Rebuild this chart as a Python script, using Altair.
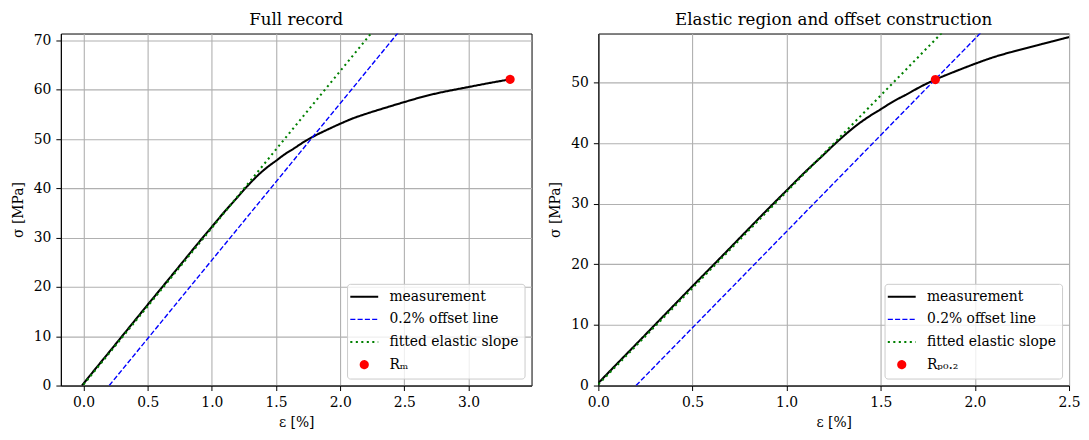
import math
import altair as alt
import pandas as pd

# ---- data ----
eps_meas = [-0.012, 0.0, 0.09, 0.2, 0.3, 0.4, 0.5, 0.63, 0.79, 0.9, 1.0, 1.1, 1.2,
            1.25, 1.3, 1.357, 1.445, 1.5, 1.57, 1.64, 1.71, 1.79, 1.9, 2.0, 2.1,
            2.2, 2.36, 2.5, 2.62, 2.75, 2.88, 3.0, 3.15, 3.324]
sig_meas = [0.0, 0.4, 3.3, 6.8, 10.0, 13.2, 16.4, 20.5, 25.6, 29.1, 32.2, 35.3, 38.2,
            39.7, 41.1, 42.6, 44.55, 45.6, 46.95, 48.1, 49.3, 50.5, 51.9, 53.1, 54.2,
            55.1, 56.4, 57.5, 58.4, 59.25, 59.95, 60.55, 61.3, 62.1]

fit_eps = [0.0, 2.4]
fit_sig = [0.2, 76.5]
off_eps = [0.2, 2.6]
off_sig = [0.0, 76.3]

rm_eps = [3.324]
rm_sig = [62.1]
rp_eps = [1.79]
rp_sig = [50.5]

labels_left = ["measurement", "0.2% offset line", "fitted elastic slope", "Rₘ"]
labels_right = ["measurement", "0.2% offset line", "fitted elastic slope", "Rₚ₀.₂"]
colors = ["#000000", "#0000ff", "#008000", "#ff0000"]
dashes = [[1, 0], [5.1, 2.2], [2.08, 3.43], [1, 0]]
widths = [2.08, 1.39, 2.08, 2.08]

# legend/point symbol shapes (style only)
LINE_SYM = "M-2.95,0H2.95"
_r = 0.75
_pts = [(_r * math.cos(2 * math.pi * k / 24), _r * math.sin(2 * math.pi * k / 24))
        for k in range(24)]
DOT_SYM = "M" + "L".join(f"{px:.4f},{py:.4f}" for px, py in _pts) + "Z"
shapes = [LINE_SYM, LINE_SYM, LINE_SYM, DOT_SYM]

left_xdom = [-0.177, 3.491]
left_ydom = [0, 71.4]
right_xdom = [0, 2.5]
right_ydom = [0, 58.1]
left_xticks = [0.0, 0.5, 1.0, 1.5, 2.0, 2.5, 3.0]
right_xticks = [0.0, 0.5, 1.0, 1.5, 2.0, 2.5]
left_yticks = [0, 10, 20, 30, 40, 50, 60, 70]
right_yticks = [0, 10, 20, 30, 40, 50]

FONT = "DejaVu Serif"
FS = 13.9


def make_legend():
    return alt.Legend(
        title=None, orient="bottom-right", offset=7, padding=6,
        fillColor="rgba(255,255,255,0.8)", strokeColor="#cccccc", cornerRadius=3,
        labelFont=FONT, labelFontSize=FS, labelColor="#000000", labelLimit=400,
        labelOffset=18.3, rowPadding=7.7, symbolSize=90, symbolOffset=4.3,
        symbolOpacity=1, symbolFillColor="#ff0000",
    )


def panel(labels, pt_eps, pt_sig, xdom, ydom, xticks, yticks, title):
    meas = pd.DataFrame({"eps": eps_meas, "sig": sig_meas, "series": labels[0]})
    off = pd.DataFrame({"eps": off_eps, "sig": off_sig, "series": labels[1]})
    fit = pd.DataFrame({"eps": fit_eps, "sig": fit_sig, "series": labels[2]})
    pt = pd.DataFrame({"eps": pt_eps, "sig": pt_sig, "series": labels[3]})
    x = alt.X("eps:Q", scale=alt.Scale(domain=xdom, nice=False, zero=False),
              axis=alt.Axis(values=xticks, format=".1f", title="ε [%]",
                            labelFont=FONT, titleFont=FONT, labelFontSize=FS,
                            titleFontSize=FS, labelFlush=False, titlePadding=6))
    y = alt.Y("sig:Q", scale=alt.Scale(domain=ydom, nice=False, zero=False),
              axis=alt.Axis(values=yticks, format="d", title="σ [MPa]",
                            labelFont=FONT, titleFont=FONT, labelFontSize=FS,
                            titleFontSize=FS, labelFlush=False, titlePadding=8))
    lg = make_legend()
    color = alt.Color("series:N", scale=alt.Scale(domain=labels, range=colors), legend=lg)
    dash = alt.StrokeDash("series:N", scale=alt.Scale(domain=labels, range=dashes), legend=lg)
    sw = alt.StrokeWidth("series:N", scale=alt.Scale(type="ordinal", domain=labels, range=widths),
                         legend=lg)
    shp = alt.Shape("series:N", scale=alt.Scale(domain=labels, range=shapes), legend=lg)

    l1 = alt.Chart(meas).mark_line(clip=True, interpolate="monotone").encode(
        x=x, y=y, color=color, strokeDash=dash, strokeWidth=sw)
    l2 = alt.Chart(off).mark_line(clip=True).encode(
        x=x, y=y, color=color, strokeDash=dash, strokeWidth=sw)
    l3 = alt.Chart(fit).mark_line(clip=True).encode(
        x=x, y=y, color=color, strokeDash=dash, strokeWidth=sw)
    p = alt.Chart(pt).mark_point(clip=True, filled=True, size=90, opacity=1,
                                 stroke="#ff0000").encode(
        x=x, y=y, color=color, shape=shp, strokeWidth=sw)
    return alt.layer(l1, l2, l3, p).properties(width=472, height=353, title=title)


left = panel(labels_left, rm_eps, rm_sig, left_xdom, left_ydom, left_xticks, left_yticks,
             "Full record")
right = panel(labels_right, rp_eps, rp_sig, right_xdom, right_ydom, right_xticks,
              right_yticks, "Elastic region and offset construction")

chart = (
    alt.hconcat(left, right, spacing=15)
    .resolve_scale(color="independent", strokeDash="independent",
                   strokeWidth="independent", shape="independent")
    .resolve_legend(color="independent", strokeDash="independent",
                    strokeWidth="independent", shape="independent")
    .properties(padding={"left": 2, "top": 2, "right": 0, "bottom": 0})
    .configure(background="white")
    .configure_view(stroke="black", strokeWidth=1)
    .configure_axis(
        labelFont=FONT, labelFontSize=FS, labelColor="#000000",
        titleFont=FONT, titleFontSize=FS, titleFontWeight="normal", titleColor="#000000",
        tickColor="#000000", tickWidth=1, tickSize=5, labelPadding=5,
        domainColor="#000000", domainWidth=1,
        gridColor="#b0b0b0", gridWidth=1.1, gridOpacity=1,
    )
    .configure_title(font=FONT, fontSize=16.7, fontWeight="normal", color="#000000",
                     offset=5, anchor="middle")
)

chart.save("out.html", embed_options={"renderer": "svg", "actions": False})
